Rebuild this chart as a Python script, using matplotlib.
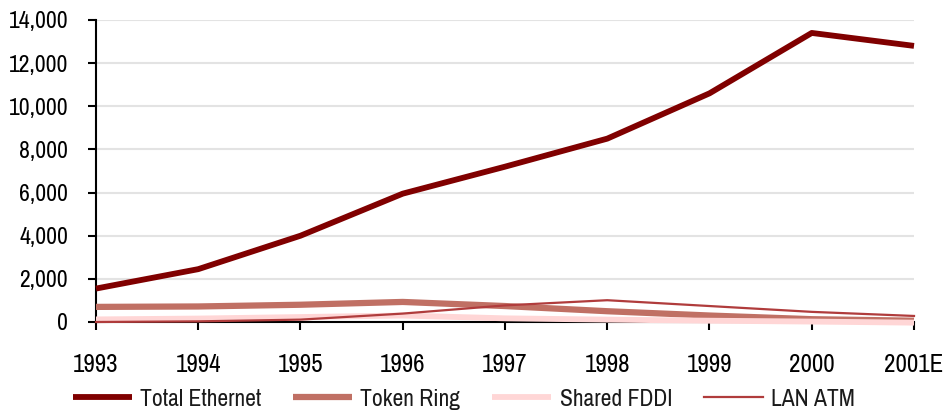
import matplotlib
matplotlib.use("Agg")
import matplotlib.pyplot as plt
from matplotlib.ticker import FuncFormatter

# categories and series (units)
years = ["1993", "1994", "1995", "1996", "1997", "1998", "1999", "2000", "2001E"]
total_ethernet = [1550, 2450, 4000, 5950, 7200, 8500, 10600, 13400, 12800]
token_ring = [700, 720, 800, 930, 740, 500, 300, 130, 60]
shared_fddi = [120, 160, 230, 300, 170, 110, 60, 20, -30]
lan_atm = [0, 30, 110, 390, 770, 1010, 740, 470, 280]

plt.rcParams["font.family"] = ["Archivo Narrow", "PT Sans Narrow", "DejaVu Sans"]
plt.rcParams["text.color"] = "#1a1a1a"

fig = plt.figure(figsize=(9.45, 4.12), dpi=100)
ax = fig.add_axes([96 / 945, 1 - 322 / 412, (914 - 96) / 945, (322 - 20) / 412])

x = list(range(len(years)))
ax.plot(x, total_ethernet, color="#800000", lw=4.2, label="Total Ethernet",
        zorder=3, clip_on=False, solid_capstyle="butt")
ax.plot(x, token_ring, color="#c07064", lw=4.5, label="Token Ring",
        zorder=3, clip_on=False, solid_capstyle="butt")
ax.plot(x, shared_fddi, color="#ffd6d6", lw=4.2, label="Shared FDDI",
        zorder=3, clip_on=False, solid_capstyle="butt")
ax.plot(x, lan_atm, color="#b03c3c", lw=1.6, label="LAN ATM",
        zorder=3, clip_on=False)

ax.set_xlim(0, len(years) - 1)
ax.set_ylim(0, 14000)
ax.set_yticks(range(0, 14001, 2000))
ax.yaxis.set_major_formatter(FuncFormatter(lambda v, p: f"{int(v):,}"))
ax.set_xticks(x)
ax.set_xticklabels(years)

ax.grid(axis="y", color="#e3e3e3", lw=1.5, zorder=0)
ax.set_axisbelow(True)
for s in ["top", "right"]:
    ax.spines[s].set_visible(False)
for s in ["left", "bottom"]:
    ax.spines[s].set_linewidth(1.5)
    ax.spines[s].set_color("black")
    ax.spines[s].set_zorder(1)

ax.tick_params(axis="y", direction="out", length=6, width=1.5, pad=14, labelsize=17)
ax.tick_params(axis="x", direction="out", length=6, width=1.5, pad=16, labelsize=18)

fig.legend(loc="center", bbox_to_anchor=(464 / 945, 1 - 399 / 412), ncol=4,
           frameon=False, fontsize=17, handlelength=2.5, handletextpad=0.35,
           columnspacing=1.35, borderpad=0, borderaxespad=0)

fig.savefig("out.png", dpi=100)
